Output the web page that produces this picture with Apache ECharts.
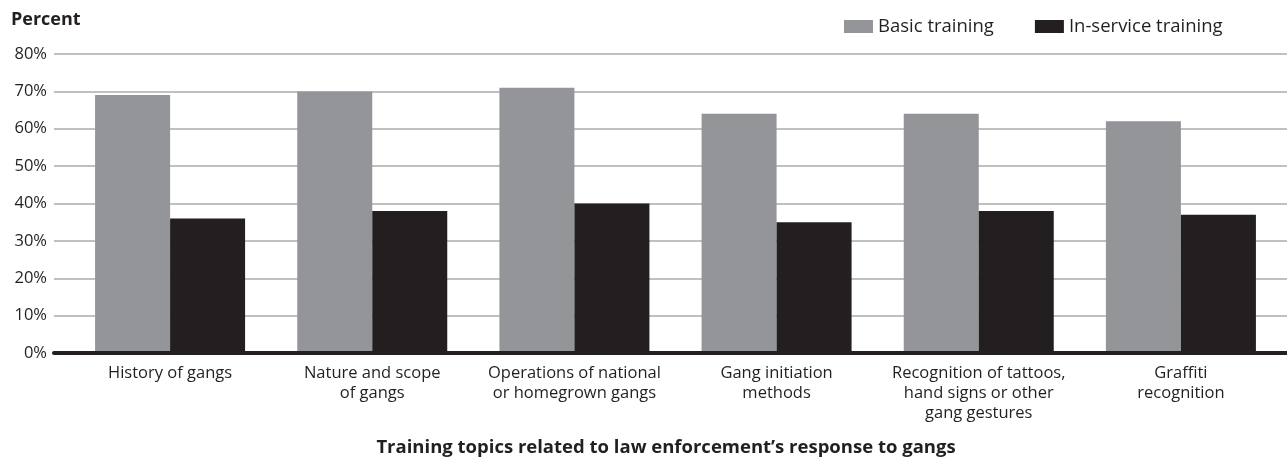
<!DOCTYPE html>
<html>
<head>
<meta charset="utf-8">
<script src="https://cdn.jsdelivr.net/npm/echarts@6/dist/echarts.min.js"></script>
<style>
html,body{margin:0;padding:0;background:#fff;}
#main{width:1287px;height:462px;}
</style>
</head>
<body>
<div id="main"></div>
<script>
const categories = [
  "History of gangs",
  "Nature and scope\nof gangs",
  "Operations of national\nor homegrown gangs",
  "Gang initiation\nmethods",
  "Recognition of tattoos,\nhand signs or other\ngang gestures",
  "Graffiti\nrecognition"
];
const basicTraining = [69, 70, 71, 64, 64, 62];
const inServiceTraining = [36, 38, 40, 35, 38, 37];
const yTicks = { min: 0, max: 80, interval: 10 };

const FONT = "'Open Sans', 'Noto Sans', sans-serif";
const TXT = '#231f20';
const chart = echarts.init(document.getElementById('main'));
chart.setOption({
  animation: false,
  backgroundColor: '#fff',
  textStyle: { fontFamily: FONT, color: TXT },
  grid: [
    { left: 54, right: 0, top: 54, bottom: 109 },
    { left: 69, right: 5, top: 54, bottom: 109 }
  ],
  legend: {
    left: 839, top: 12,
    itemWidth: 29, itemHeight: 13, itemGap: 41,
    icon: 'rect',
    textStyle: { fontFamily: FONT, fontSize: 18.5, color: TXT },
    data: ['Basic training', 'In-service training']
  },
  graphic: [
    { type: 'text', x: 11, y: 20, style: { text: 'Percent', font: "bold 18px 'Open Sans', sans-serif", fill: TXT, verticalAlign: 'middle' } },
    { type: 'text', x: 666, y: 448, style: { text: 'Training topics related to law enforcement\u2019s response to gangs', font: "bold 18.5px 'Open Sans', sans-serif", fill: TXT, align: 'center', verticalAlign: 'middle' } }
  ],
  xAxis: [
    { type: 'value', gridIndex: 0, min: 0, max: 1, z: 5,
      axisLine: { show: true, onZero: false, lineStyle: { color: TXT, width: 4 } },
      axisTick: { show: false }, axisLabel: { show: false }, splitLine: { show: false } },
    { type: 'category', gridIndex: 1, data: categories,
      axisLine: { show: false }, axisTick: { show: false },
      axisLabel: { interval: 0, margin: 10, fontSize: 16.5, lineHeight: 20, color: TXT, fontFamily: FONT } }
  ],
  yAxis: [
    { type: 'value', gridIndex: 0, min: yTicks.min, max: yTicks.max, interval: yTicks.interval,
      axisLine: { show: false }, axisTick: { show: false },
      axisLabel: { formatter: '{value}%', fontSize: 16.5, color: TXT, margin: 7, fontFamily: FONT },
      splitLine: { show: true, lineStyle: { color: '#ababab', width: 1.5 } } },
    { type: 'value', gridIndex: 1, min: yTicks.min, max: yTicks.max, interval: yTicks.interval,
      show: false, splitLine: { show: false } }
  ],
  series: [
    { name: 'Basic training', type: 'bar', xAxisIndex: 1, yAxisIndex: 1,
      data: basicTraining, barWidth: 75, barGap: '0%', itemStyle: { color: '#939598' } },
    { name: 'In-service training', type: 'bar', xAxisIndex: 1, yAxisIndex: 1,
      data: inServiceTraining, barWidth: 75, barGap: '0%', itemStyle: { color: '#231f20' } }
  ]
});
</script>
</body>
</html>
